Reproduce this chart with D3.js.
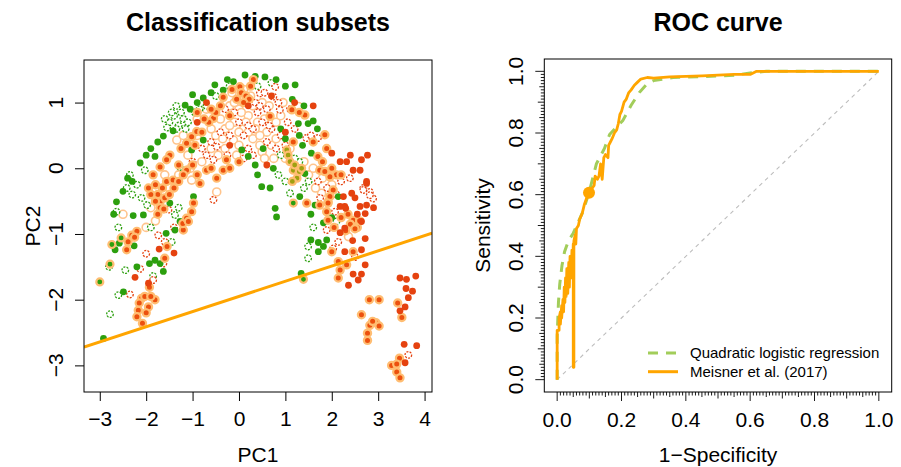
<!DOCTYPE html>
<html>
<head>
<meta charset="utf-8">
<script src="https://cdn.jsdelivr.net/npm/d3@7/dist/d3.min.js"></script>
<style>
  body { margin: 0; background: #fff; }
  text { font-family: "Liberation Sans", Arial, Helvetica, sans-serif; fill: #000; }
</style>
</head>
<body>
<div id="chart"></div>
<script>
// ---------- data: classification subsets (PC1, PC2) ----------
const greenPts = [[-2.92,-2.59],[-2.58,-1.14],[-2.67,-1.24],[-2.26,-1.18],[-2.28,-0.72],[-2.06,-0.71],[-2.49,-1.88],
  [-1.93,-1.45],[-1.81,-1.40],[-1.70,-1.45],[-1.63,-1.57],[-1.57,-0.99],[-1.38,-0.94],[-1.27,-0.81],[-1.49,-0.53],
  [-0.98,-0.43],[-2.64,-0.51],[-2.13,0.08],[-1.81,0.18],[-1.02,0.28],[-0.77,0.43],[-1.63,0.49],[-1.42,0.57],
  [-1.16,0.96],[-1.05,0.9],[-0.77,1.07],[-0.52,1.27],[-0.34,1.19],[-0.12,1.32],[0.13,1.42],[0.56,1.39],[1.21,1.27],
  [-0.6,1.15],[-0.9,1.0],[-2.3,-0.2],[-2.5,-0.35],[-1.9,0.3],[1.28,0.68],[1.49,0.68],[1.6,0.72],[1.69,0.60],
  [0.2,0.18],[0.06,0.28],[0.52,0.30],[1.37,0.35],[1.56,0.23],[0.74,0],[0.49,-0.28],[0.67,-0.3],[1.31,-0.43],
  [0.78,-0.61],[1.64,-0.56],[2.14,-0.43],[0.81,-0.74],[1.82,-0.83],[1.55,-1.09],[1.71,-1.13],[1.89,-1.09],
  [1.82,-1.19],[1.71,-1.27],[1.34,-1.6],[1.42,-0.08],[0.9,0.6],[1.0,0.45],[0.35,0.05],
  [-1.0,1.12],[-0.25,1.35],[0.35,1.4],[0.8,1.35],[1.0,1.25],[1.4,0.95],[1.15,1.05],[-1.75,0.4],[-2.0,0.2],
  [-2.4,-0.15],[-2.7,-0.7],[-2.2,-1.5],[1.3,0.5],[0.4,-0.1],[1.55,-0.7],[2.0,-0.75]];
const greenHaloPts = [[-3.0,-1.73],[-2.78,-1.46],[-2.74,-1.16],[-2.54,-1.06],[1.17,-0.53],[1.39,-1.69]];
const olivePts = [[1.03,0.28],[1.06,0.2],[1.17,-0.03],[1.1,0.1],[1.2,0.05],[1.25,-0.15],[1.3,-0.05],[1.15,-0.2],[1.35,0.0]];
const redPts = [[-1.95,-1.75],[-2.24,-1.66],[-1.72,-1.23],[-1.4,-1.29],[0.6,0.05],[2.0,0.23],[2.18,0.10],[2.32,0.10],
  [2.46,-0.03],[2.61,-0.03],[2.64,0.13],[2.77,0.20],[2.75,-0.2],[2.75,-0.56],[2.61,-0.58],[2.25,-0.43],[2.28,-0.58],
  [2.18,-0.58],[2.3,-0.61],[2.43,-0.38],[2.75,-0.23],[2.72,-0.69],[2.64,-0.81],[2.18,-0.98],[2.28,-0.91],[2.72,-1.07],
  [2.28,-1.27],[2.64,-1.24],[2.72,-1.47],[2.46,-1.61],[2.64,-1.61],[2.57,-1.70],[2.36,-1.78],[3.47,-1.67],[3.61,-1.69],
  [3.81,-1.64],[3.6,-1.83],[3.74,-1.87],[3.65,-1.97],[3.58,-2.11],[3.47,-2.17],[3.56,-2.68],[3.83,-2.70],[3.58,-2.96],
  [2.55,-0.7],[0.7,1.1],[-0.9,0.7],[0.2,0.95],[1.0,0.55],
  [1.2,1.0],[1.6,0.95],[2.4,0.2],[2.5,-0.45],[2.9,-0.6],[2.45,-1.1],[-0.7,1.0],[-0.2,0.35]];
const redHaloPts = [[-2.39,-1.12],[-2.31,-1.02],[-2.2,-0.96],[-2.42,-1.24],[-2.1,-1.98],[-2.03,-1.95],[-1.93,-1.81],
  [-1.81,-2.0],[-1.95,-2.11],[-2.17,-2.16],[-2.2,-2.26],[-2.08,-2.36],[-1.6,-1.37],[-1.55,-1.19],[-1.2,-0.94],
  [-1.21,-0.84],[-1.13,-0.76],[-1.02,-0.66],[-0.98,-0.53],[-1.09,-0.81],[-1.7,-0.51],[-1.75,-0.4],[-1.65,-0.3],
  [-1.8,-0.25],[-1.6,-0.45],[-1.7,-0.6],[-1.56,-0.2],[-1.42,-0.18],[-1.13,-0.03],[-1.2,-0.1],[-0.84,-0.23],
  [-0.48,-0.15],[-0.7,-0.03],[-0.34,-0.03],[-0.27,0.13],[-1.49,0.2],[-1.7,0.02],[-1.56,0.13],[-1.02,0.48],
  [-1.13,0.38],[-0.91,0.56],[-0.8,0.55],[-0.55,0.76],[-0.5,0.85],[-0.65,0.7],[-0.34,1.08],[-0.4,0.95],[-0.2,0.8],
  [0.31,1.35],[0.02,1.24],[0.05,1.15],[0.15,1.1],[0.22,1.05],[0.1,1.0],[-0.05,1.05],[1.14,0.89],[1.42,0.81],
  [1.3,0.85],[0.67,0.79],[1.17,0.4],[1.85,0.51],[1.89,0.30],[1.7,0.18],[2.1,-0.1],[1.96,-0.13],[1.74,-0.03],
  [1.85,-0.05],[1.46,-0.53],[1.74,-0.56],[1.92,-0.51],[2.03,-0.33],[1.96,-0.43],[1.92,-0.53],[1.89,-0.66],
  [1.92,-0.79],[2.46,-0.79],[2.4,-0.85],[2.55,-0.9],[2.6,-0.8],[2.5,-0.92],[2.0,-1.27],[2.46,-1.27],[2.14,-1.42],
  [2.18,-1.55],[2.32,-1.47],[2.14,-1.67],[2.81,-2.0],[3.02,-2.0],[3.42,-2.05],[3.51,-2.27],[2.64,-2.23],
  [2.82,-2.39],[2.95,-2.35],[3.02,-2.4],[2.88,-2.33],[2.77,-2.51],[2.77,-2.62],[3.46,-2.89],[3.29,-3.0],
  [3.4,-2.98],[3.4,-3.1],[3.47,-3.19],
  [-1.8,-0.5],[-1.75,-0.7],[-1.62,-0.62],[-1.5,-0.4],[-1.4,-0.3],[-1.3,-0.2],[-1.9,-0.4],[-1.85,-0.1],[-1.95,-0.3],
  [-1.3,0.05],[-1.0,0.05],[-0.9,-0.1],[-0.6,0.0],[-0.2,0.0],[0.0,0.1],[-0.75,0.75],[-0.6,0.9],[-0.9,0.85],
  [-0.15,1.2],[0.25,1.25],[-1.25,0.3],[-0.95,0.35],[1.6,0.4],[2.0,0.0],[2.2,-0.1],[1.8,0.1],[2.3,-0.95],
  [2.2,-0.75],[2.35,-0.7],[2.05,-0.9],[-2.25,-1.05],[-2.15,-2.05],[-1.9,-1.95],[-2.0,-2.2]];
const openGreenPts = [[-2.64,-0.66],[-1.98,-0.56],[-2.6,-1.93],[-2.78,-2.22],[-1.85,-1.64],[-1.45,-1.12],[-1.38,-0.71],
  [-1.27,0.02],[-2.03,-0.03],[-2.42,-0.30],[-2.3,-0.4],[-2.2,-0.25],[-1.5,0.7],[-1.4,0.8],[-1.3,0.65],[-1.2,0.75],
  [-1.45,0.85],[-1.35,0.6],[-1.25,0.85],[-1.15,0.6],[-1.55,0.62],[-0.85,0.9],[-0.7,0.95],[0.85,-0.1],[1.1,-0.38],
  [1.49,-1.19],[1.49,-1.37],[2.1,-0.81],[1.5,-0.2],[1.3,0.1],[-0.5,1.1],[-2.45,-1.55],[0.4,1.25],[0.9,0.2],
  [-1.9,-0.9],[-1.3,-0.6],
  [-1.6,0.75],[-1.35,0.95],[-1.1,0.7],[-0.95,0.85],[-2.35,-0.1],[-2.1,-0.45],[-2.6,-0.9],[-2.8,-1.5],[1.0,-0.2],
  [1.4,-0.3],[1.6,-0.9],[1.2,0.15],[-0.2,1.25],[0.7,1.3]];
const openRedPts = [[-2.35,-1.92],[-2.13,-1.53],[-1.63,-1.45],[-1.6,-1.12],[-1.74,-1.02],[-1.52,-0.63],[-0.55,0.13],
  [-0.55,-0.48],[-0.48,0.33],[0.78,1.24],[0.45,1.14],[0.74,1.09],[0.88,0.89],[0.85,1.0],[0.6,0.9],[0.5,0.7],
  [0.3,0.6],[0.1,0.5],[0.7,0.6],[0.4,0.85],[1.45,0.46],[1.7,0.46],[1.2,0.6],[2.39,-0.15],[2.68,-0.3],[2.82,-0.36],
  [2.89,-0.46],[2.68,-0.33],[2.82,-0.41],[2.07,-0.66],[1.89,-0.94],[2.14,-1.12],[2.03,-1.22],[2.5,-1.35],
  [3.65,-2.84],[1.7,-0.2],[1.9,-0.3],[2.0,-0.1],[0.0,0.7],[-0.2,0.5],[-0.3,0.9],[0.2,0.3],[0.6,0.4],[-0.8,0.3],
  [-1.0,0.1],[-0.7,0.2],[0.35,1.0],[0.9,0.5],[1.05,0.7],
  [-0.1,0.85],[0.2,0.65],[0.45,0.95],[0.65,0.65],[0.8,0.3],[0.1,0.15],[-0.4,0.55],[-0.6,0.4],[0.55,1.15],
  [1.1,0.9],[1.55,0.5],[1.0,0.35],[2.2,-0.2],[2.1,-0.4],[1.75,-0.45],[-1.85,-1.7],[-1.4,-0.9],[-2.0,-1.3],
  [0.3,0.2],[-0.25,0.2]];
const openOrangePts = [[-1.34,0.43],[-1.02,-0.18],[-0.48,-0.36],[-0.12,0.43],[1.28,0.94],[1.78,-0.38],[2.36,-1.04],
  [-0.2,0.95],[0.0,0.9],[0.2,0.8],[0.4,0.7],[0.3,0.95],[0.5,1.0],[0.6,0.55],[0.8,0.7],[0.1,0.6],[-0.1,0.7],
  [-0.3,0.6],[-0.5,0.5],[-0.6,0.3],[-0.8,0.1],[-0.9,0.75],[-0.7,0.9],[-0.3,0.3],[0.0,0.35],[0.3,0.45],[0.5,0.25],
  [0.7,0.35],[0.9,0.8],[1.1,0.3],[1.6,0.0],[1.8,-0.15],[2.0,-0.25],[1.65,-0.3],[-1.1,0.2],[-1.3,-0.1],[-1.5,-0.3],
  [-1.9,-0.6],[-2.5,-0.7],[0.1,1.2],[-0.1,1.0],[0.45,0.5],[0.2,0.55],
  [-0.9,0.5],[-0.6,0.6],[-0.4,0.75],[-0.2,0.65],[0.0,0.55],[0.15,0.7],[0.35,0.6],[0.55,0.75],[0.65,0.95],
  [0.25,1.1],[-0.15,1.15],[0.45,0.35],[0.8,0.45],[1.0,0.15],[-0.45,0.2],[-1.2,0.5],[-1.6,-0.1],[-1.8,-0.8],
  [-2.0,-0.9],[1.4,0.1],[1.5,-0.1],[0.75,0.15],[-0.05,0.2],[0.95,1.0],[-1.05,0.0],[-0.35,0.45],[0.05,0.85],
  [0.55,0.15]];
// decision boundary: PC2 = intercept + slope * PC1
const boundaryIntercept = -1.95;
const boundarySlope = 0.231;
const pc1Ticks = [-3, -2, -1, 0, 1, 2, 3, 4];
const pc2Ticks = [-3, -2, -1, 0, 1];

// ---------- data: ROC curves (1-specificity, sensitivity) ----------
const meisnerFpr = [0,0,0.006,0.006,0.01,0.01,0.014,0.014,0.018,0.02,0.022,0.024,0.026,0.028,0.03,0.033,0.036,0.038,
  0.04,0.043,0.046,0.048,0.05,0.05,0.052,0.052,0.056,0.058,0.06,0.066,0.07,0.078,0.085,0.092,0.1,0.108,0.115,0.118,
  0.125,0.13,0.135,0.14,0.145,0.15,0.158,0.16,0.165,0.17,0.178,0.185,0.19,0.195,0.2,0.208,0.215,0.222,0.23,0.24,
  0.25,0.26,0.28,0.3,0.35,0.45,0.55,0.6,0.62,0.7,1];
const meisnerTpr = [0,0.16,0.16,0.2,0.22,0.18,0.24,0.2,0.26,0.22,0.3,0.25,0.33,0.27,0.36,0.28,0.38,0.3,
  0.4,0.33,0.42,0.36,0.44,0.04,0.04,0.45,0.47,0.44,0.49,0.5,0.52,0.54,0.57,0.59,0.61,0.62,0.63,0.66,
  0.65,0.66,0.7,0.65,0.72,0.73,0.72,0.76,0.77,0.78,0.8,0.81,0.83,0.86,0.87,0.9,0.91,0.93,0.94,0.955,
  0.965,0.975,0.98,0.978,0.982,0.985,0.99,0.99,1,1,1];
const quadFpr = [0,0,0.004,0.008,0.015,0.023,0.035,0.05,0.065,0.08,0.1,0.122,0.147,0.163,0.185,0.204,0.23,0.256,
  0.28,0.3,0.36,0.45,0.55,0.6,0.65,1];
const quadTpr = [0,0.14,0.25,0.31,0.37,0.415,0.45,0.475,0.51,0.545,0.61,0.70,0.75,0.795,0.82,0.84,0.89,0.932,
  0.96,0.97,0.98,0.983,0.987,0.995,1,1];
const cutoffPoint = [0.099, 0.606];
const rocTicks = [0, 0.2, 0.4, 0.6, 0.8, 1];
const legendLabels = ["Quadratic logistic regression", "Meisner et al. (2017)"];

// ---------- svg ----------
const svg = d3.select("#chart").append("svg")
  .attr("width", 901)
  .attr("height", 467);

const fmtMinus = d => (d < 0 ? "\u2212" + Math.abs(d) : String(d));

// ================= left panel =================
const left = { x0: 84, x1: 432, y0: 60, y1: 392 };
const xL = d3.scaleLinear().domain([-3.34, 4.16]).range([left.x0, left.x1]);
const yL = d3.scaleLinear().domain([-3.405, 1.648]).range([left.y1, left.y0]);

svg.append("clipPath").attr("id", "clipL")
  .append("rect")
  .attr("x", left.x0).attr("y", left.y0)
  .attr("width", left.x1 - left.x0).attr("height", left.y1 - left.y0);

const gPts = svg.append("g").attr("clip-path", "url(#clipL)");

const cGreen = "#2c9f0e", cRed = "#e5420f", cHalo = "#ffbd72", cPale = "#ffc48c";

function drawPts(data, st) {
  gPts.append("g").selectAll("circle")
    .data(data)
    .join("circle")
    .attr("cx", d => xL(d[0]))
    .attr("cy", d => yL(d[1]))
    .attr("r", st.r)
    .attr("fill", st.fill)
    .attr("stroke", st.stroke || "none")
    .attr("stroke-width", st.sw || 0)
    .attr("stroke-dasharray", st.dash || null);
}

drawPts(openOrangePts, { r: 4, fill: "#fff", stroke: cPale, sw: 1.6 });
drawPts(openGreenPts, { r: 3.3, fill: "#fff", stroke: cGreen, sw: 1.3, dash: "2,1.3" });
drawPts(openRedPts, { r: 3.3, fill: "#fff", stroke: cRed, sw: 1.3, dash: "2,1.3" });
drawPts(greenPts, { r: 3.4, fill: cGreen });
drawPts(greenHaloPts, { r: 3.5, fill: cGreen, stroke: cHalo, sw: 2.2 });
drawPts(olivePts, { r: 3.5, fill: "#a0a010", stroke: cHalo, sw: 2.2 });
drawPts(redHaloPts, { r: 3.6, fill: "#ec500e", stroke: cHalo, sw: 2.2 });
drawPts(redPts, { r: 3.4, fill: cRed });

// boundary line across the x domain
const bx = xL.domain();
gPts.append("line")
  .attr("x1", xL(bx[0])).attr("y1", yL(boundaryIntercept + boundarySlope * bx[0]))
  .attr("x2", xL(bx[1])).attr("y2", yL(boundaryIntercept + boundarySlope * bx[1]))
  .attr("stroke", "#ffa500")
  .attr("stroke-width", 3);

svg.append("rect")
  .attr("x", left.x0).attr("y", left.y0)
  .attr("width", left.x1 - left.x0).attr("height", left.y1 - left.y0)
  .attr("fill", "none").attr("stroke", "#000").attr("stroke-width", 1);

const axL = svg.append("g")
  .attr("transform", `translate(0,${left.y1})`)
  .call(d3.axisBottom(xL).tickValues(pc1Ticks).tickSize(9).tickPadding(10).tickFormat(fmtMinus));
axL.select(".domain").remove();
axL.selectAll("text").style("font-size", "21px");

const ayL = svg.append("g")
  .attr("transform", `translate(${left.x0},0)`)
  .call(d3.axisLeft(yL).tickValues(pc2Ticks).tickSize(9).tickFormat(""));
ayL.select(".domain").remove();
svg.append("g").selectAll("text")
  .data(pc2Ticks)
  .join("text")
  .attr("transform", d => `translate(63,${yL(d)}) rotate(-90)`)
  .attr("text-anchor", "middle")
  .style("font-size", "21px")
  .text(fmtMinus);

svg.append("text")
  .attr("x", (left.x0 + left.x1) / 2).attr("y", 31)
  .attr("text-anchor", "middle")
  .style("font-size", "25px").style("font-weight", "bold")
  .text("Classification subsets");
svg.append("text")
  .attr("x", (left.x0 + left.x1) / 2).attr("y", 462)
  .attr("text-anchor", "middle")
  .style("font-size", "21px")
  .text("PC1");
svg.append("text")
  .attr("transform", `translate(40,${(left.y0 + left.y1) / 2}) rotate(-90)`)
  .attr("text-anchor", "middle")
  .style("font-size", "21px")
  .text("PC2");

// ================= right panel =================
const right = { x0: 544.3, x1: 891.7, y0: 59, y1: 392 };
const xR = d3.scaleLinear().domain([-0.04, 1.04]).range([right.x0, right.x1]);
const yR = d3.scaleLinear().domain([-0.04, 1.04]).range([right.y1, right.y0]);

svg.append("clipPath").attr("id", "clipR")
  .append("rect")
  .attr("x", right.x0).attr("y", right.y0)
  .attr("width", right.x1 - right.x0).attr("height", right.y1 - right.y0);
const gRoc = svg.append("g").attr("clip-path", "url(#clipR)");

// chance diagonal
gRoc.append("line")
  .attr("x1", xR(0)).attr("y1", yR(0))
  .attr("x2", xR(1)).attr("y2", yR(1))
  .attr("stroke", "#bdbdbd").attr("stroke-width", 1.1)
  .attr("stroke-dasharray", "4,4");

const rocLine = d3.line().x(d => xR(d[0])).y(d => yR(d[1]));
const quadData = quadFpr.map((f, i) => [f, quadTpr[i]]);
const meisData = meisnerFpr.map((f, i) => [f, meisnerTpr[i]]);

gRoc.append("path")
  .attr("d", rocLine(quadData))
  .attr("fill", "none")
  .attr("stroke", "#a2cd5a").attr("stroke-width", 3)
  .attr("stroke-dasharray", "10,8");

gRoc.append("path")
  .attr("d", rocLine(meisData))
  .attr("fill", "none")
  .attr("stroke", "#ffa500").attr("stroke-width", 2.8)
  .attr("stroke-linejoin", "round");

gRoc.append("circle")
  .attr("cx", xR(cutoffPoint[0])).attr("cy", yR(cutoffPoint[1]))
  .attr("r", 6).attr("fill", "#ffa500");

svg.append("rect")
  .attr("x", right.x0).attr("y", right.y0)
  .attr("width", right.x1 - right.x0).attr("height", right.y1 - right.y0)
  .attr("fill", "none").attr("stroke", "#000").attr("stroke-width", 1);

// dense minor ticks every 0.01, longer at 0.05 / 0.1, major at labelled values
const minorVals = d3.range(0, 101).map(i => i / 100);
const tickLen = v => {
  const k = Math.round(v * 100);
  if (k % 20 === 0) return 9;
  if (k % 10 === 0) return 6.5;
  if (k % 5 === 0) return 5;
  return 3.5;
};
svg.append("g").selectAll("line")
  .data(minorVals)
  .join("line")
  .attr("x1", d => xR(d)).attr("x2", d => xR(d))
  .attr("y1", right.y1).attr("y2", d => right.y1 + tickLen(d))
  .attr("stroke", "#000").attr("stroke-width", 0.9);
svg.append("g").selectAll("line")
  .data(minorVals)
  .join("line")
  .attr("y1", d => yR(d)).attr("y2", d => yR(d))
  .attr("x1", right.x0).attr("x2", d => right.x0 - tickLen(d))
  .attr("stroke", "#000").attr("stroke-width", 0.9);

svg.append("g").selectAll("text")
  .data(rocTicks)
  .join("text")
  .attr("x", d => xR(d)).attr("y", 427)
  .attr("text-anchor", "middle")
  .style("font-size", "21px")
  .text(d => d.toFixed(1));
svg.append("g").selectAll("text")
  .data(rocTicks)
  .join("text")
  .attr("transform", d => `translate(523,${yR(d)}) rotate(-90)`)
  .attr("text-anchor", "middle")
  .style("font-size", "21px")
  .text(d => d.toFixed(1));

svg.append("text")
  .attr("x", (right.x0 + right.x1) / 2).attr("y", 31)
  .attr("text-anchor", "middle")
  .style("font-size", "25px").style("font-weight", "bold")
  .text("ROC curve");
svg.append("text")
  .attr("x", (right.x0 + right.x1) / 2).attr("y", 462)
  .attr("text-anchor", "middle")
  .style("font-size", "21px")
  .text("1\u2212Specificity");
svg.append("text")
  .attr("transform", `translate(490,${(right.y0 + right.y1) / 2}) rotate(-90)`)
  .attr("text-anchor", "middle")
  .style("font-size", "21px")
  .text("Sensitivity");

// legend
const legend = svg.append("g").attr("transform", "translate(648,353)");
const legStyles = [
  { color: "#a2cd5a", dash: "10,8" },
  { color: "#ffa500", dash: null }
];
legendLabels.forEach((lab, i) => {
  legend.append("line")
    .attr("x1", 0).attr("x2", 30)
    .attr("y1", i * 18.7).attr("y2", i * 18.7)
    .attr("stroke", legStyles[i].color).attr("stroke-width", 3)
    .attr("stroke-dasharray", legStyles[i].dash);
  legend.append("text")
    .attr("x", 42).attr("y", i * 18.7)
    .attr("dy", "0.35em")
    .style("font-size", "15px")
    .text(lab);
});
</script>
</body>
</html>
